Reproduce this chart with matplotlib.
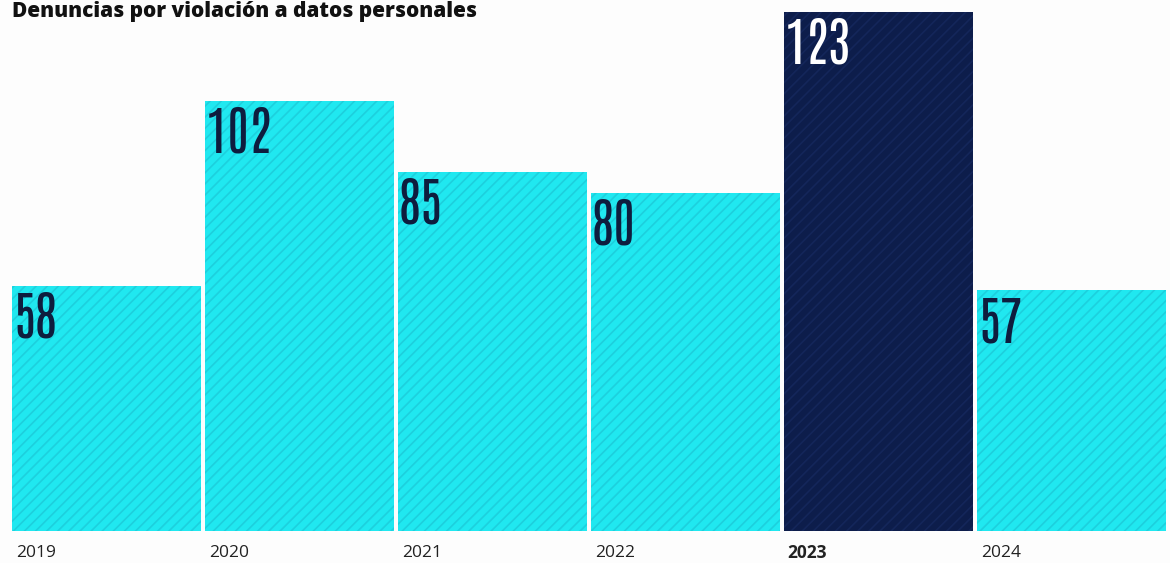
import matplotlib.pyplot as plt
import numpy as np

# data
years = ['2019', '2020', '2021', '2022', '2023', '2024']
values = [58, 102, 85, 80, 123, 57]
highlight = '2023'

cyan = '#20E8F0'
hatch_c = '#1DD0DD'
navy = '#0D1D4B'

plt.rcParams['hatch.linewidth'] = 1.2

W, H = 1170, 563
fig = plt.figure(figsize=(W / 100, H / 100), dpi=100)
fig.patch.set_facecolor('#FDFDFD')

# axes placed in pixel coords
x0, x1 = 10, 1168
ybot, ytop = 531, 12
ax = fig.add_axes([x0 / W, (H - ybot) / H, (x1 - x0) / W, (ybot - ytop) / H])
ax.set_facecolor('none')

x = np.arange(len(years))
colors = [navy if y == highlight else cyan for y in years]
hcols = ['#14265A' if y == highlight else hatch_c for y in years]
bars = ax.bar(x, values, width=0.984, color=colors, edgecolor=hcols,
              linewidth=0, hatch='///', align='center')

ax.set_xlim(-0.5, len(years) - 0.5)
ax.set_ylim(0, max(values))
ax.axis('off')

num_font = ['Antonio', 'Barlow Condensed', 'DejaVu Sans']
for i, (yr, v) in enumerate(zip(years, values)):
    tc = 'white' if yr == highlight else '#0E1D3E'
    ax.annotate(str(v), xy=(i - 0.492, v), xytext=(1, -4),
                textcoords='offset points', ha='left', va='top',
                fontsize=38, family=num_font, color=tc)
    ax.annotate(yr, xy=(i - 0.492, 0), xytext=(3, -15.5),
                textcoords='offset points', ha='left', va='center',
                fontsize=12.5, family=['Open Sans', 'DejaVu Sans'],
                color='#222222',
                fontweight='bold' if yr == highlight else 'normal')

fig.text(12 / W, 1 - 1 / H, 'Denuncias por violación a datos personales',
         ha='left', va='top', fontsize=15, fontweight='heavy',
         family=['Open Sans', 'DejaVu Sans'], color='#111111')

fig.savefig('out.png', dpi=100, facecolor=fig.get_facecolor())
